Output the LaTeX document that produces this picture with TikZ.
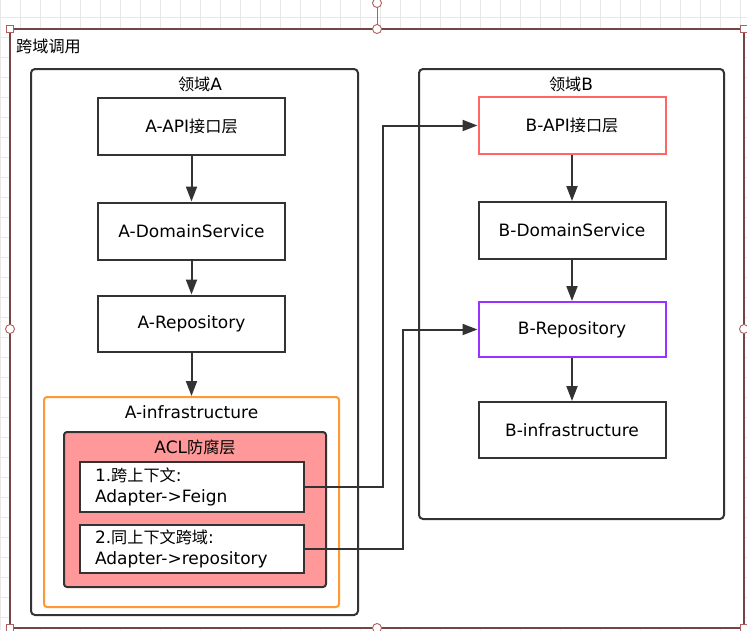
\documentclass[tikz,border=0pt]{standalone}
\usepackage{fontspec}
\setmainfont{DejaVu Sans}
\newfontfamily\cjk{Noto Sans CJK SC}[Scale=0.95]
\usetikzlibrary{arrows.meta,positioning}
\definecolor{LineGray}{RGB}{51,51,51}
\definecolor{GridGray}{RGB}{232,232,232}
\definecolor{SelBrown}{RGB}{115,70,70}
\definecolor{HandleRed}{RGB}{175,95,95}
\definecolor{InfraOrange}{RGB}{255,153,51}
\definecolor{AclRed}{RGB}{255,153,153}
\definecolor{ApiRed}{RGB}{255,102,102}
\definecolor{RepoPurple}{RGB}{153,51,255}

\begin{document}
\begin{tikzpicture}[
    x=1pt,y=-1pt,>=Triangle,
    font=\fontsize{17}{21}\selectfont,
    layer/.style={
      draw=LineGray,line width=2pt,minimum width=187pt,
      minimum height=57pt,inner sep=0pt
    },
    domainbox/.style={draw=LineGray,line width=2pt,rounded corners=4pt},
    adapter/.style={
      draw=LineGray,line width=2pt,fill=white,minimum width=224pt,
      minimum height=50pt,inner xsep=15pt,inner ysep=0pt,
      text width=194pt,align=left
    },
    flow/.style={-{Triangle[length=15pt,width=11pt]},draw=LineGray,line width=2pt},
    handle/.style={draw=HandleRed,fill=white,line width=0.9pt}
  ]
    \useasboundingbox (0,0) rectangle (747,630);
    % canvas grid and selected container
    \foreach \gx in {0,20,...,740}
      \draw[GridGray,line width=1pt] (\gx,0) -- (\gx,630);
    \foreach \gy in {17,37,...,630}
      \draw[GridGray,line width=1pt] (0,\gy) -- (747,\gy);
    \draw[SelBrown,line width=1.5pt,fill=white] (10,29) rectangle (744,628);
    \node[anchor=west,inner sep=0pt] (crossTitle) at (16,46) {\cjk 跨域调用};

    % domain A
    \node[domainbox,minimum width=327pt,minimum height=546pt] (domainA) at (194.5,342) {};
    \node (domainAtitle) at (200,84) {{\cjk 领域}A};
    \node[layer] (apiA) at (191.5,126) {A-API{\cjk 接口层}};
    \node[layer,below=46pt of apiA] (svcA) {A-DomainService};
    \node[layer,minimum height=56pt,below=34pt of svcA] (repoA) {A-Repository};
    \node[draw=InfraOrange,line width=2pt,rounded corners=3pt,
      minimum width=295pt,minimum height=210pt] (infraA) at (191.5,502) {};
    \node (infraAtitle) at (191.5,412) {A-infrastructure};
    \node[draw=LineGray,fill=AclRed,line width=2pt,rounded corners=3pt,
      minimum width=262pt,minimum height=155pt] (acl) at (195,509.5) {};
    \node (acltitle) at (195,447) {ACL{\cjk 防腐层}};
    \node[adapter] (feign) at (192,487) {1.{\cjk 跨上下文}:\\Adapter->Feign};
    \node[adapter,minimum height=48pt] (sameCtx) at (192,549) {2.{\cjk 同上下文跨域}:\\Adapter->repository};

    % domain B
    \node[domainbox,minimum width=305pt,minimum height=450pt] (domainB) at (571.5,294) {};
    \node (domainBtitle) at (571,84) {{\cjk 领域}B};
    \node[layer,draw=ApiRed] (apiB) at (572,125.5) {B-API{\cjk 接口层}};
    \node[layer,below=46pt of apiB] (svcB) {B-DomainService};
    \node[layer,draw=RepoPurple,minimum height=55pt,below=41pt of svcB] (repoB) {B-Repository};
    \node[layer,minimum height=56pt,below=43pt of repoB] (infraB) {B-infrastructure};

    \draw[flow] (apiA) -- (svcA);
    \draw[flow] (svcA) -- (repoA);
    \draw[flow] (repoA) -- (infraA);
    \draw[flow] (apiB) -- (svcB);
    \draw[flow] (svcB) -- (repoB);
    \draw[flow] (repoB) -- (infraB);
    \draw[flow] (feign.east) -- ++(78,0) |- (apiB.west);
    \draw[flow] (sameCtx.east) -- ++(98,0) |- (repoB.west);

    % selection handles
    \draw[HandleRed,line width=0.9pt] (377,3) -- (377,29);
    \foreach \hx/\hy in {10/29,744/29,10/628,744/628}
      \draw[handle] (\hx-3.5,\hy-3.5) rectangle (\hx+3.5,\hy+3.5);
    \foreach \hx/\hy in {377/29,10/329,744/329,377/628,377/3}
      \draw[handle] (\hx,\hy) circle[radius=4.5];
  \end{tikzpicture}
\end{document}
